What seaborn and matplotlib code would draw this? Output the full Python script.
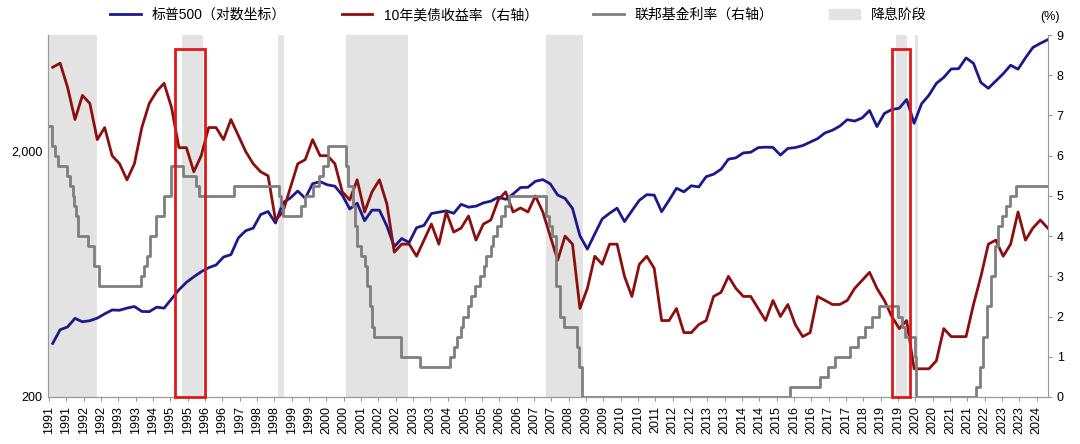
import numpy as np
import pandas as pd
import matplotlib
matplotlib.use("Agg")
import matplotlib.pyplot as plt
import matplotlib.patches as mpatches
from matplotlib.lines import Line2D
from matplotlib import font_manager as fm
import seaborn as sns

cjk_name = None
for f in fm.findSystemFonts():
    if "CJK" in f and "Sans" in f:
        try:
            fm.fontManager.addfont(f)
            nm = fm.FontProperties(fname=f).get_name()
            if cjk_name is None or nm.endswith("SC"):
                cjk_name = nm
        except Exception:
            pass
plt.rcParams["font.family"] = ["Liberation Sans", cjk_name or "Noto Sans CJK SC", "DejaVu Sans"]

# S&P 500 quarterly (1991Q1 ...)
spx = [330,375,385,417, 404,408,418,435, 451,450,459,466, 445,444,463,459,
       500,545,584,615, 645,670,687,740, 757,885,947,970, 1101,1133,1017,1229,
       1286,1372,1282,1469, 1498,1454,1436,1320, 1160,1224,1040,1148, 1147,989,815,880,
       848,974,995,1112, 1126,1140,1114,1212, 1180,1191,1228,1248, 1295,1270,1335,1418,
       1421,1503,1527,1468, 1322,1280,1166,903, 797,919,1057,1115, 1169,1031,1141,1258,
       1326,1321,1131,1258, 1408,1362,1441,1426, 1569,1606,1682,1848, 1872,1960,1972,2059,
       2068,2063,1920,2044, 2060,2099,2168,2239, 2363,2423,2519,2674, 2640,2718,2914,2507,
       2834,2942,2977,3231, 2585,3100,3363,3756, 3973,4298,4308,4766, 4530,3785,3586,3840,
       4109,4450,4288,4770, 5254,5460,5650]
# 10Y Treasury yield quarterly (%)
ust10 = [8.2,8.3,7.7,6.9, 7.5,7.3,6.4,6.7, 6.0,5.8,5.4,5.8, 6.7,7.3,7.6,7.8,
         7.2,6.2,6.2,5.6, 6.0,6.7,6.7,6.4, 6.9,6.5,6.1,5.8, 5.6,5.5,4.4,4.6,
         5.2,5.8,5.9,6.4, 6.0,6.0,5.8,5.1, 4.9,5.4,4.6,5.1, 5.4,4.8,3.6,3.8,
         3.8,3.5,3.9,4.3, 3.8,4.6,4.1,4.2, 4.5,3.9,4.3,4.4, 4.9,5.1,4.6,4.7,
         4.6,5.0,4.6,4.0, 3.4,4.0,3.8,2.2, 2.7,3.5,3.3,3.8, 3.8,3.0,2.5,3.3,
         3.5,3.2,1.9,1.9, 2.2,1.6,1.6,1.8, 1.9,2.5,2.6,3.0, 2.7,2.5,2.5,2.2,
         1.9,2.4,2.0,2.3, 1.8,1.5,1.6,2.5, 2.4,2.3,2.3,2.4, 2.7,2.9,3.1,2.7,
         2.4,2.0,1.7,1.9, 0.7,0.7,0.7,0.9, 1.7,1.5,1.5,1.5, 2.3,3.0,3.8,3.9,
         3.5,3.8,4.6,3.9, 4.2,4.4,4.2]
# Fed funds rate changes (decimal year, rate %)
ff_dates = [1991.0,1991.1,1991.2,1991.3,1991.6,1991.7,1991.8,1991.85,1991.92,1991.97,1992.3,1992.5,1992.7,
            1994.1,1994.2,1994.3,1994.4,1994.6,1994.88,1995.1,1995.5,1995.95,1996.05,1997.22,
            1998.75,1998.8,1998.88,1999.5,1999.63,1999.88,2000.1,2000.22,2000.38,
            2001.01,2001.08,2001.22,2001.3,2001.38,2001.5,2001.63,2001.7,2001.8,2001.88,2001.95,
            2002.85,2003.5,2004.5,2004.63,2004.72,2004.88,2004.95,2005.1,2005.22,2005.35,2005.5,
            2005.63,2005.72,2005.88,2005.95,2006.08,2006.22,2006.35,2006.5,
            2007.72,2007.83,2007.95,2008.06,2008.08,2008.22,2008.33,2008.77,2008.83,2008.96,
            2015.96,2016.96,2017.22,2017.46,2017.96,2018.22,2018.46,2018.72,2018.96,
            2019.58,2019.72,2019.83,2020.17,2020.2,2022.21,2022.34,2022.46,2022.57,2022.72,
            2022.84,2022.96,2023.09,2023.22,2023.34,2023.57,2024.65]
ff_rates = [6.75,6.25,6.0,5.75,5.5,5.25,5.0,4.75,4.5,4.0,3.75,3.25,2.75,
            3.0,3.25,3.5,4.0,4.5,5.0,5.75,5.5,5.25,5.0,5.25,
            5.0,4.75,4.5,4.75,5.0,5.25,5.5,5.75,6.25,
            5.75,5.25,4.75,4.25,3.75,3.5,3.25,2.75,2.25,1.75,1.5,
            1.0,0.75,1.0,1.25,1.5,1.75,2.0,2.25,2.5,2.75,3.0,
            3.25,3.5,3.75,4.0,4.25,4.5,4.75,5.0,
            4.5,4.25,4.0,3.25,2.75,2.0,1.75,1.25,0.75,0.0,
            0.25,0.5,0.75,1.0,1.25,1.5,1.75,2.0,2.25,
            2.0,1.75,1.5,1.0,0.0,0.25,0.75,1.5,2.25,3.0,
            3.75,4.25,4.5,4.75,5.0,5.25,5.25]
cut_start = [1991.0, 1995.48, 1998.7, 2001.0, 2007.72, 2019.5, 2020.15]
cut_end = [1992.6, 1996.2, 1998.9, 2003.1, 2008.98, 2019.88, 2020.25]
box_start = [1995.24, 2019.38]
box_end = [1996.25, 2019.99]

qx = 1991.0 + 0.125 + 0.25*np.arange(len(spx))
qx2 = 1991.0 + 0.125 + 0.25*np.arange(len(ust10))

BLUE, RED, GRAY, SHADE = "#1c1a8a", "#8b0f0f", "#7f7f7f", "#e3e3e3"

fig = plt.figure(figsize=(10.8, 4.44), dpi=100)
ax = fig.add_axes([0.044, 0.106, 0.926, 0.815])
ax2 = ax.twinx()

for s, e in zip(cut_start, cut_end):
    ax.axvspan(s, e, color=SHADE, lw=0, zorder=0)

sns.lineplot(x=qx, y=spx, ax=ax, color=BLUE, lw=2)
sns.lineplot(x=qx2, y=ust10, ax=ax2, color=RED, lw=2)
sns.lineplot(x=ff_dates, y=ff_rates, ax=ax2, color=GRAY, lw=2, drawstyle="steps-post")

ax.set_yscale("log")
ax.set_ylim(200, 5900)
ax.set_yticks([200, 2000])
ax.set_yticklabels(["200", "2,000"])
ax.minorticks_off()
ax2.set_ylim(0, 9)
ax2.set_yticks(range(10))
ax.set_xlim(1990.95, 2024.62)
ax2.set_xlim(1990.95, 2024.62)

for s, e in zip(box_start, box_end):
    ax2.add_patch(mpatches.Rectangle((s, 0.0), e - s, 8.65, fill=False, ec="#e01818", lw=2, zorder=5, clip_on=False))

ticks = 1991.0 + np.arange(58) * 7 / 12
ax.set_xticks(ticks)
ax.set_xticklabels([str(int(np.floor(t + 1e-6))) for t in ticks], rotation=90, fontsize=9)
ax.tick_params(axis="x", length=3, color="#999999")
ax.tick_params(axis="y", length=0, labelsize=9)
ax2.tick_params(axis="y", length=3, labelsize=9, color="#999999")

for a in (ax, ax2):
    a.spines["top"].set_visible(False)
    for sp in ("left", "right", "bottom"):
        a.spines[sp].set_color("#999999")
ax.spines["right"].set_visible(False)

handles = [Line2D([], [], color=BLUE, lw=2), Line2D([], [], color=RED, lw=2),
           Line2D([], [], color=GRAY, lw=2), mpatches.Patch(color=SHADE)]
labels = ["标普500（对数坐标）", "10年美债收益率（右轴）", "联邦基金利率（右轴）", "降息阶段"]
fig.legend(handles, labels, loc="upper center", bbox_to_anchor=(0.48, 1.01), ncol=4,
           frameon=False, fontsize=10, columnspacing=4, handlelength=2.2)
fig.text(0.972, 0.955, "(%)", fontsize=9, ha="center")

fig.savefig("out.png", dpi=100)
